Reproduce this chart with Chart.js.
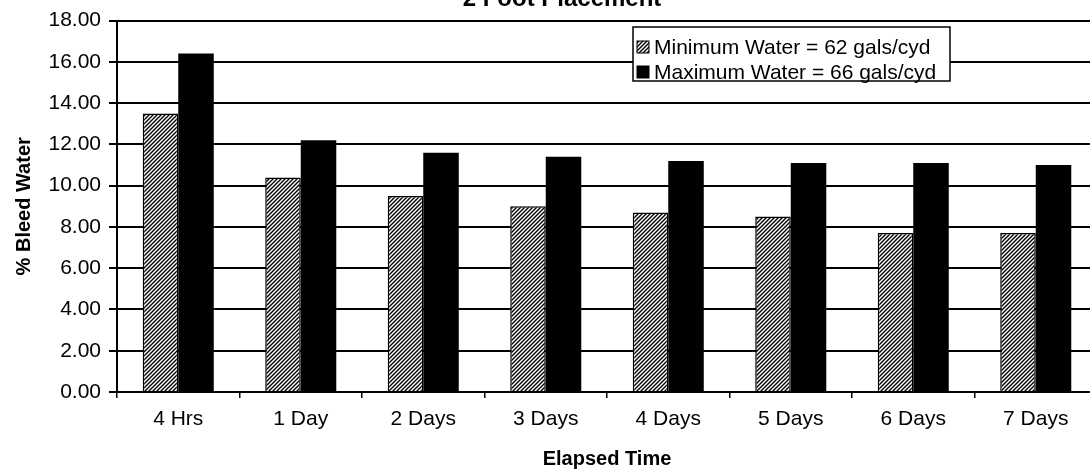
<!DOCTYPE html>
<html>
<head>
<meta charset="utf-8">
<script src="https://cdn.jsdelivr.net/npm/chart.js@4/dist/chart.umd.min.js"></script>
<style>
  html, body { margin: 0; padding: 0; background: #fff; overflow: hidden; }
  #wrap { position: relative; width: 1100px; height: 473px; }
</style>
</head>
<body>
<div id="wrap"><canvas id="c" width="1100" height="473"></canvas></div>
<script>
// Elapsed-time categories
const categories = ['4 Hrs', '1 Day', '2 Days', '3 Days', '4 Days', '5 Days', '6 Days', '7 Days'];
// % bleed water for each mix
const minWater = [13.5, 10.4, 9.5, 9.0, 8.7, 8.5, 7.7, 7.7];
const maxWater = [16.4, 12.2, 11.6, 11.4, 11.2, 11.1, 11.1, 11.0];
const seriesLabels = ['Minimum Water = 62 gals/cyd', 'Maximum Water = 66 gals/cyd'];
const chartTitle = '2 Foot Placement';
const yTitle = '% Bleed Water';
const xTitle = 'Elapsed Time';

const FONT = "'Liberation Sans', Arial, Helvetica, sans-serif";

// diagonal hatch fill
function makeHatch(ctx) {
  const t = document.createElement('canvas');
  t.width = 4; t.height = 4;
  const g = t.getContext('2d');
  g.fillStyle = '#fff';
  g.fillRect(0, 0, 4, 4);
  g.strokeStyle = '#000';
  g.lineWidth = 1.4;
  g.beginPath();
  g.moveTo(0, 4); g.lineTo(4, 0);
  g.moveTo(-2, 2); g.lineTo(2, -2);
  g.moveTo(2, 6); g.lineTo(6, 2);
  g.stroke();
  return ctx.createPattern(t, 'repeat');
}

const canvas = document.getElementById('c');
const ctx = canvas.getContext('2d');
const hatch = makeHatch(ctx);

// title (partly above the canvas edge) and boxed legend inside the plot
const decorations = {
  id: 'decorations',
  afterDraw(chart, args, opts) {
    const c = chart.ctx;
    c.save();
    c.fillStyle = '#000';
    c.font = 'bold 24px ' + FONT;
    c.textAlign = 'center';
    c.textBaseline = 'alphabetic';
    c.fillText(chartTitle, opts.titleX, opts.titleY);

    const bx = opts.boxX, by = opts.boxY, bw = opts.boxW, bh = opts.boxH;
    c.fillStyle = '#fff';
    c.fillRect(bx, by, bw, bh);
    c.strokeStyle = '#000';
    c.lineWidth = 1.5;
    c.strokeRect(bx, by, bw, bh);

    c.font = '21px ' + FONT;
    c.textAlign = 'left';
    c.textBaseline = 'middle';
    chart.data.datasets.forEach((ds, i) => {
      const cy = by + opts.rowY[i];
      const sx = bx + 4, s = 12;
      c.fillStyle = ds.backgroundColor;
      c.fillRect(sx, cy - s / 2, s, s);
      c.strokeStyle = '#000';
      c.lineWidth = 1;
      c.strokeRect(sx, cy - s / 2, s, s);
      c.fillStyle = '#000';
      c.fillText(ds.label, bx + 21, cy + 1);
    });
    c.restore();
  }
};

new Chart(ctx, {
  type: 'bar',
  data: {
    labels: categories,
    datasets: [
      {
        label: seriesLabels[0],
        data: minWater,
        backgroundColor: hatch,
        borderColor: '#000',
        borderWidth: 1.5,
        borderSkipped: 'bottom'
      },
      {
        label: seriesLabels[1],
        data: maxWater,
        backgroundColor: '#000',
        borderColor: '#000',
        borderWidth: 0
      }
    ]
  },
  options: {
    responsive: false,
    animation: false,
    devicePixelRatio: 1,
    layout: { padding: { top: 18, right: 3, left: 0, bottom: 0 } },
    datasets: { bar: { categoryPercentage: 0.58, barPercentage: 1.0 } },
    plugins: {
      legend: { display: false },
      title: { display: false },
      tooltip: { enabled: false },
      decorations: {
        titleX: 562, titleY: 6,
        boxX: 633, boxY: 27, boxW: 317, boxH: 54,
        rowY: [20, 45]
      }
    },
    scales: {
      x: {
        offset: true,
        grid: {
          display: true, offset: true, drawOnChartArea: false, drawTicks: true,
          tickLength: 6, color: '#000', lineWidth: 1.5
        },
        border: { display: true, color: '#000', width: 2 },
        ticks: { color: '#000', font: { family: FONT, size: 21 }, padding: 9, maxRotation: 0, autoSkip: false },
        title: { display: true, text: xTitle, color: '#000', font: { family: FONT, size: 20, weight: 'bold' }, padding: { top: 4, bottom: 2 } },
        afterFit(scale) { scale.height = 81; }
      },
      y: {
        min: 0, max: 18,
        ticks: {
          stepSize: 2, color: '#000', padding: 8,
          font: { family: FONT, size: 21 },
          callback: v => Number(v).toFixed(2)
        },
        grid: { color: '#000', lineWidth: 2, tickLength: 8, drawTicks: true },
        border: { display: true, color: '#000', width: 2 },
        title: { display: true, text: yTitle, color: '#000', font: { family: FONT, size: 20, weight: 'bold' }, padding: { top: 12, bottom: 4 } },
        afterFit(scale) { scale.width = 117; }
      }
    }
  },
  plugins: [decorations]
});
</script>
</body>
</html>
